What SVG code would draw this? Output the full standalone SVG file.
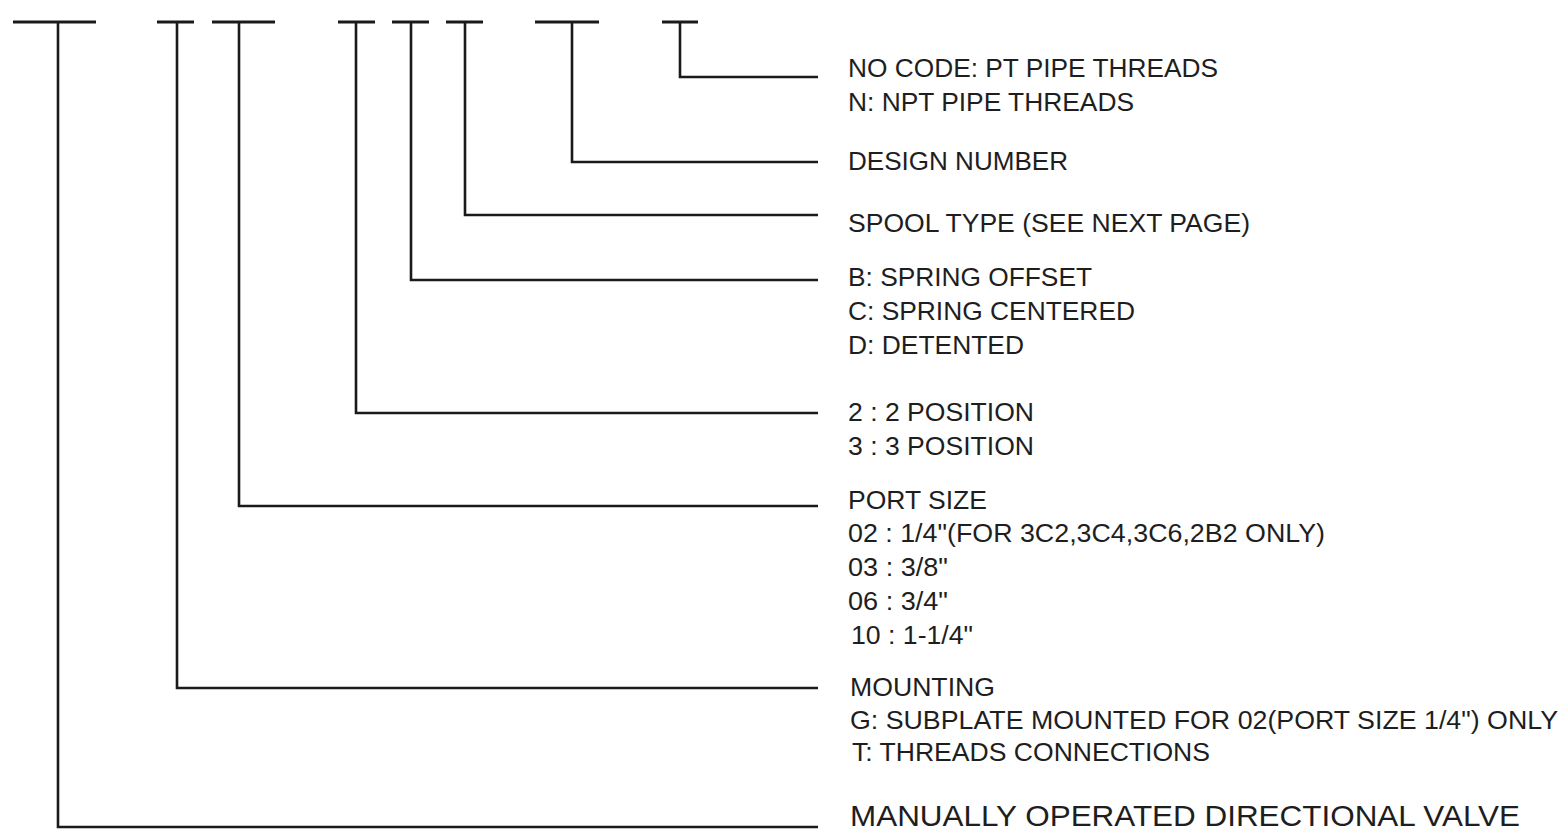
<svg xmlns="http://www.w3.org/2000/svg" width="1563" height="830" viewBox="0 0 1563 830">
<style>
.ln{fill:none;stroke:#1a1a1a;stroke-width:2.6;stroke-linecap:butt;stroke-linejoin:miter}
.bar{stroke:#1a1a1a;stroke-width:3.2}
text{font-family:"Liberation Sans",Arial,sans-serif;font-size:26px;fill:#1e1e1e}
.s{font-size:25px}
.big{font-size:29px}
</style>
<rect width="1563" height="830" fill="#ffffff"/>
<g id="connectors">
<path class="ln" d="M58 22 V827 H818"/>
<path class="ln" d="M177 22 V688 H818"/>
<path class="ln" d="M239 22 V506 H818"/>
<path class="ln" d="M356 22 V413 H818"/>
<path class="ln" d="M411 22 V280 H818"/>
<path class="ln" d="M465 22 V215 H818"/>
<path class="ln" d="M572 22 V162 H818"/>
<path class="ln" d="M680 22 V77 H818"/>
</g>
<g id="code-bars">
<line class="bar" x1="13" y1="22" x2="96" y2="22"/>
<line class="bar" x1="157" y1="22" x2="194" y2="22"/>
<line class="bar" x1="212" y1="22" x2="275" y2="22"/>
<line class="bar" x1="338" y1="22" x2="375" y2="22"/>
<line class="bar" x1="392" y1="22" x2="429" y2="22"/>
<line class="bar" x1="446" y1="22" x2="483" y2="22"/>
<line class="bar" x1="535" y1="22" x2="599" y2="22"/>
<line class="bar" x1="662" y1="22" x2="698" y2="22"/>
</g>
<g id="thread">
<text x="848" y="77" textLength="370" lengthAdjust="spacingAndGlyphs">NO CODE: PT PIPE THREADS</text>
<text x="848" y="111" textLength="286" lengthAdjust="spacingAndGlyphs">N: NPT PIPE THREADS</text>
</g>
<g id="design">
<text x="848" y="170" textLength="220" lengthAdjust="spacingAndGlyphs">DESIGN NUMBER</text>
</g>
<g id="spool">
<text x="848" y="232" textLength="402" lengthAdjust="spacingAndGlyphs">SPOOL TYPE (SEE NEXT PAGE)</text>
</g>
<g id="spring">
<text x="848" y="286" textLength="244" lengthAdjust="spacingAndGlyphs">B: SPRING OFFSET</text>
<text x="848" y="320" textLength="287" lengthAdjust="spacingAndGlyphs">C: SPRING CENTERED</text>
<text x="848" y="354" textLength="176" lengthAdjust="spacingAndGlyphs">D: DETENTED</text>
</g>
<g id="position">
<text x="848" y="421" textLength="186" lengthAdjust="spacingAndGlyphs">2 : 2 POSITION</text>
<text x="848" y="455" textLength="186" lengthAdjust="spacingAndGlyphs">3 : 3 POSITION</text>
</g>
<g id="port">
<text x="848" y="509" textLength="139" lengthAdjust="spacingAndGlyphs">PORT SIZE</text>
<text class="s" x="848" y="542" textLength="477" lengthAdjust="spacingAndGlyphs">02 : 1/4"(FOR 3C2,3C4,3C6,2B2 ONLY)</text>
<text class="s" x="848" y="576" textLength="100" lengthAdjust="spacingAndGlyphs">03 : 3/8"</text>
<text class="s" x="848" y="610" textLength="100" lengthAdjust="spacingAndGlyphs">06 : 3/4"</text>
<text class="s" x="851" y="644" textLength="122" lengthAdjust="spacingAndGlyphs">10 : 1-1/4"</text>
</g>
<g id="mounting">
<text x="850" y="696" textLength="145" lengthAdjust="spacingAndGlyphs">MOUNTING</text>
<text x="850" y="729" textLength="708" lengthAdjust="spacingAndGlyphs">G: SUBPLATE MOUNTED FOR 02(PORT SIZE 1/4") ONLY</text>
<text x="852" y="761" textLength="358" lengthAdjust="spacingAndGlyphs">T: THREADS CONNECTIONS</text>
</g>
<g id="valve">
<text class="big" x="850" y="826" textLength="670" lengthAdjust="spacingAndGlyphs">MANUALLY OPERATED DIRECTIONAL VALVE</text>
</g>
</svg>
